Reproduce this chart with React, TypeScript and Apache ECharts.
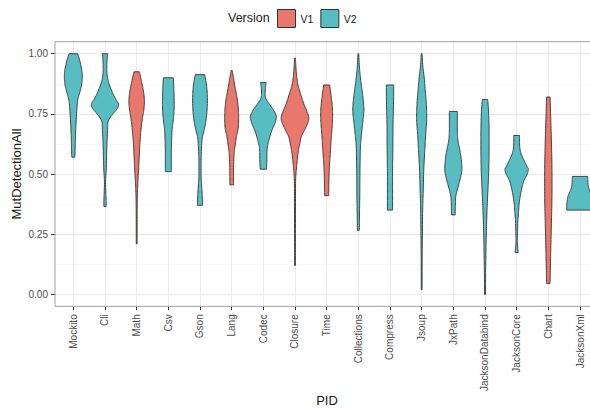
import React, { useEffect, useRef } from 'react';
import * as echarts from 'echarts';

const categories = ['Mockito', 'Cli', 'Math', 'Csv', 'Gson', 'Lang', 'Codec', 'Closure', 'Time', 'Collections', 'Compress', 'Jsoup', 'JxPath', 'JacksonDatabind', 'JacksonCore', 'Chart', 'JacksonXml'];
const versions = ['V2', 'V2', 'V1', 'V2', 'V2', 'V1', 'V2', 'V1', 'V1', 'V2', 'V2', 'V2', 'V2', 'V2', 'V2', 'V1', 'V2'];
const yTicks = [0, 0.25, 0.5, 0.75, 1];

// violin profiles: [MutDetectionAll value, relative density width (1 = widest)]
const mockito = [[1.0, 0.30], [0.97, 0.46], [0.93, 0.60], [0.90, 0.63], [0.87, 0.58], [0.84, 0.46], [0.81, 0.32], [0.77, 0.25], [0.72, 0.20], [0.66, 0.15], [0.61, 0.13], [0.57, 0.11]];
const cli = [[1.0, 0.19], [0.97, 0.14], [0.93, 0.13], [0.90, 0.18], [0.88, 0.26], [0.84, 0.51], [0.81, 0.77], [0.79, 0.96], [0.77, 0.84], [0.75, 0.56], [0.72, 0.23], [0.68, 0.18], [0.63, 0.14], [0.57, 0.11], [0.52, 0.09], [0.47, 0.04], [0.42, 0.06], [0.39, 0.08], [0.365, 0.08]];
const math = [[0.925, 0.19], [0.89, 0.32], [0.85, 0.46], [0.81, 0.54], [0.77, 0.51], [0.73, 0.40], [0.68, 0.30], [0.63, 0.23], [0.57, 0.18], [0.52, 0.14], [0.47, 0.09], [0.43, 0.06], [0.38, 0.04], [0.30, 0.03], [0.21, 0.03]];
const csv = [[0.90, 0.35], [0.85, 0.39], [0.80, 0.41], [0.76, 0.40], [0.72, 0.34], [0.68, 0.26], [0.62, 0.22], [0.56, 0.21], [0.51, 0.21]];
const gson = [[0.913, 0.33], [0.87, 0.46], [0.83, 0.51], [0.78, 0.51], [0.73, 0.44], [0.69, 0.32], [0.65, 0.16], [0.60, 0.10], [0.55, 0.08], [0.49, 0.08], [0.45, 0.12], [0.41, 0.16], [0.37, 0.18]];
const lang = [[0.93, 0.04], [0.90, 0.13], [0.87, 0.21], [0.83, 0.34], [0.80, 0.42], [0.76, 0.48], [0.73, 0.49], [0.69, 0.46], [0.66, 0.35], [0.62, 0.25], [0.59, 0.18], [0.54, 0.14], [0.49, 0.13], [0.455, 0.13]];
const codec = [[0.88, 0.20], [0.86, 0.15], [0.83, 0.13], [0.81, 0.21], [0.785, 0.49], [0.76, 0.77], [0.737, 0.91], [0.71, 0.81], [0.675, 0.56], [0.64, 0.39], [0.605, 0.27], [0.56, 0.25], [0.52, 0.22]];
const closure = [[0.982, 0.03], [0.95, 0.06], [0.91, 0.11], [0.87, 0.21], [0.83, 0.41], [0.79, 0.63], [0.76, 0.84], [0.73, 0.97], [0.70, 0.81], [0.67, 0.56], [0.65, 0.42], [0.61, 0.28], [0.58, 0.20], [0.54, 0.13], [0.50, 0.07], [0.46, 0.04], [0.35, 0.035], [0.20, 0.03], [0.12, 0.03]];
const time = [[0.87, 0.21], [0.82, 0.32], [0.78, 0.40], [0.74, 0.42], [0.70, 0.39], [0.66, 0.34], [0.63, 0.30], [0.58, 0.25], [0.54, 0.20], [0.48, 0.16], [0.41, 0.14]];
const collections = [[1.0, 0.03], [0.95, 0.07], [0.91, 0.13], [0.87, 0.21], [0.84, 0.28], [0.80, 0.36], [0.76, 0.39], [0.72, 0.32], [0.68, 0.25], [0.64, 0.18], [0.60, 0.14], [0.53, 0.12], [0.47, 0.11], [0.40, 0.10], [0.33, 0.08], [0.266, 0.07]];
const compress = [[0.87, 0.26], [0.80, 0.25], [0.70, 0.21], [0.60, 0.20], [0.50, 0.18], [0.42, 0.18], [0.35, 0.18]];
const jsoup = [[1.0, 0.03], [0.95, 0.08], [0.90, 0.18], [0.85, 0.25], [0.80, 0.32], [0.76, 0.35], [0.72, 0.35], [0.67, 0.29], [0.63, 0.25], [0.59, 0.21], [0.52, 0.15], [0.43, 0.11], [0.35, 0.07], [0.29, 0.06], [0.15, 0.035], [0.02, 0.03]];
const jxpath = [[0.76, 0.28], [0.70, 0.28], [0.66, 0.29], [0.63, 0.35], [0.605, 0.44], [0.56, 0.56], [0.52, 0.60], [0.49, 0.53], [0.45, 0.35], [0.42, 0.22], [0.40, 0.16], [0.36, 0.14], [0.33, 0.13]];
const jacksonDatabind = [[0.81, 0.19], [0.76, 0.25], [0.70, 0.28], [0.63, 0.29], [0.56, 0.28], [0.49, 0.25], [0.425, 0.20], [0.36, 0.15], [0.29, 0.11], [0.22, 0.08], [0.15, 0.06], [0.07, 0.04], [0.0, 0.035]];
const jacksonCore = [[0.66, 0.20], [0.62, 0.21], [0.59, 0.28], [0.56, 0.49], [0.53, 0.74], [0.52, 0.82], [0.50, 0.74], [0.47, 0.49], [0.43, 0.32], [0.38, 0.18], [0.34, 0.13], [0.30, 0.08], [0.25, 0.06], [0.22, 0.05], [0.19, 0.08], [0.173, 0.11]];
const chartV = [[0.82, 0.12], [0.75, 0.16], [0.65, 0.21], [0.55, 0.25], [0.47, 0.26], [0.38, 0.25], [0.28, 0.21], [0.18, 0.17], [0.10, 0.14], [0.045, 0.12]];
const jacksonXml = [[0.49, 0.53], [0.47, 0.55], [0.45, 0.58], [0.43, 0.68], [0.41, 0.83], [0.39, 0.90], [0.37, 0.93], [0.35, 0.93]];

const profiles = [mockito, cli, math, csv, gson, lang, codec, closure, time, collections, compress, jsoup, jxpath, jacksonDatabind, jacksonCore, chartV, jacksonXml];

const COLORS: Record<string, string> = { V1: '#E8776C', V2: '#57BDC2' };
const FONT = 'Liberation Sans, Arial, Helvetica, sans-serif';

function cr(a: number, b: number, c: number, d: number, t: number) {
  return 0.5 * (2 * b + (-a + c) * t + (2 * a - 5 * b + 4 * c - d) * t * t + (-a + 3 * b - 3 * c + d) * t * t * t);
}

function densify(p: number[][]) {
  const out: number[][] = [];
  const n = p.length;
  const steps = 8;
  for (let k = 0; k < n - 1; k++) {
    const p0 = p[Math.max(k - 1, 0)], p1 = p[k], p2 = p[k + 1], p3 = p[Math.min(k + 2, n - 1)];
    for (let s = 0; s < steps; s++) {
      const t = s / steps;
      out.push([cr(p0[0], p1[0], p2[0], p3[0], t), Math.max(0.02, cr(p0[1], p1[1], p2[1], p3[1], t))]);
    }
  }
  out.push(p[n - 1]);
  return out;
}

export default function App() {
  const ref = useRef<HTMLDivElement>(null);
  useEffect(() => {
    const chart = echarts.init(ref.current!, null, { renderer: 'svg' });

    const makeSeries = (ver: string) => ({
      type: 'custom',
      name: ver,
      xAxisIndex: 0,
      yAxisIndex: 0,
      z: 5,
      itemStyle: { color: COLORS[ver], borderColor: '#333333', borderWidth: 1 },
      encode: { x: 0, y: [1, 2] },
      data: categories
        .map((c, i) => {
          const prof = profiles[i];
          return versions[i] === ver ? [i, prof[prof.length - 1][0], prof[0][0]] : null;
        })
        .filter((d) => d !== null),
      renderItem: (params: any, api: any) => {
        const i = api.value(0);
        const prof = densify(profiles[i]);
        const spacing = api.coord([1, 0])[0] - api.coord([0, 0])[0];
        const half = spacing * 0.45;
        const cx = api.coord([i, 0])[0];
        const right = prof.map((d) => [cx + d[1] * half, api.coord([i, d[0]])[1]]);
        const left = prof.slice().reverse().map((d) => [cx - d[1] * half, api.coord([i, d[0]])[1]]);
        return {
          type: 'polygon',
          shape: { points: right.concat(left) },
          style: { fill: COLORS[ver], stroke: '#333333', lineWidth: 0.9, lineJoin: 'round' },
        };
      },
    });

    const option: any = {
      animation: false,
      backgroundColor: '#ffffff',
      textStyle: { fontFamily: FONT },
      legend: {
        data: ['V1', 'V2'],
        left: 277,
        top: 9,
        padding: 0,
        itemWidth: 18,
        itemHeight: 18,
        itemGap: 7,
        icon: 'rect',
        selectedMode: false,
        textStyle: { fontSize: 10.5, color: '#1a1a1a', fontFamily: FONT },
        itemStyle: { borderColor: '#333333', borderWidth: 1 },
      },
      grid: [
        { left: 73.33, right: 10, top: 53.7, bottom: 116.7 },
        { left: 73.33, right: 10, top: 41.7, bottom: 104.7 },
        { left: 55, right: -9, top: 53.7, bottom: 116.7 },
      ],
      xAxis: [
        { type: 'category', gridIndex: 0, data: categories, boundaryGap: false, show: false },
        {
          type: 'category', gridIndex: 1, data: categories, boundaryGap: false,
          axisLine: { show: false },
          axisTick: { show: true, length: 4, lineStyle: { color: '#333333', width: 1 } },
          axisLabel: { rotate: 90, fontSize: 10, color: '#4d4d4d', margin: 8, fontFamily: FONT, interval: 0 },
          splitLine: { show: true, lineStyle: { color: '#ebebeb', width: 1 } },
        },
        { type: 'value', gridIndex: 2, show: false },
      ],
      yAxis: [
        { type: 'value', gridIndex: 0, min: 0, max: 1, show: false },
        { type: 'value', gridIndex: 1, min: 0, max: 1, show: false },
        {
          type: 'value', gridIndex: 2, min: 0, max: 1, interval: 0.25,
          axisLine: { show: false },
          axisTick: { show: true, length: 4, lineStyle: { color: '#333333', width: 1 } },
          axisLabel: {
            fontSize: 10, color: '#4d4d4d', margin: 7, fontFamily: FONT,
            customValues: yTicks,
            formatter: (v: number) => v.toFixed(2),
          },
          splitLine: { show: true, lineStyle: { color: '#ebebeb', width: 1 } },
          minorTick: { show: false, splitNumber: 2 },
          minorSplitLine: { show: true, lineStyle: { color: '#f4f4f4', width: 0.6 } },
        },
      ],
      graphic: [
        {
          type: 'rect', silent: true, z: 100,
          shape: { x: 55, y: 41.7, width: 544, height: 264.6 },
          style: { fill: 'none', stroke: '#a0a0a0', lineWidth: 1 },
        },
        {
          type: 'text', silent: true, x: 228, y: 18,
          style: { text: 'Version', fontSize: 12.5, fill: '#1a1a1a', fontFamily: FONT, verticalAlign: 'middle', align: 'left' },
        },
        {
          type: 'text', silent: true, x: 16, y: 174, rotation: Math.PI / 2,
          style: { text: 'MutDetectionAll', fontSize: 13, fill: '#1a1a1a', fontFamily: FONT, verticalAlign: 'middle', align: 'center' },
        },
        {
          type: 'text', silent: true, x: 327, y: 400,
          style: { text: 'PID', fontSize: 13, fill: '#1a1a1a', fontFamily: FONT, verticalAlign: 'middle', align: 'center' },
        },
      ],
      series: [makeSeries('V1'), makeSeries('V2')],
    };
    chart.setOption(option);
    return () => chart.dispose();
  }, []);
  return <div ref={ref} style={{ position: 'absolute', left: 0, top: 0, width: 590, height: 411 }} />;
}
